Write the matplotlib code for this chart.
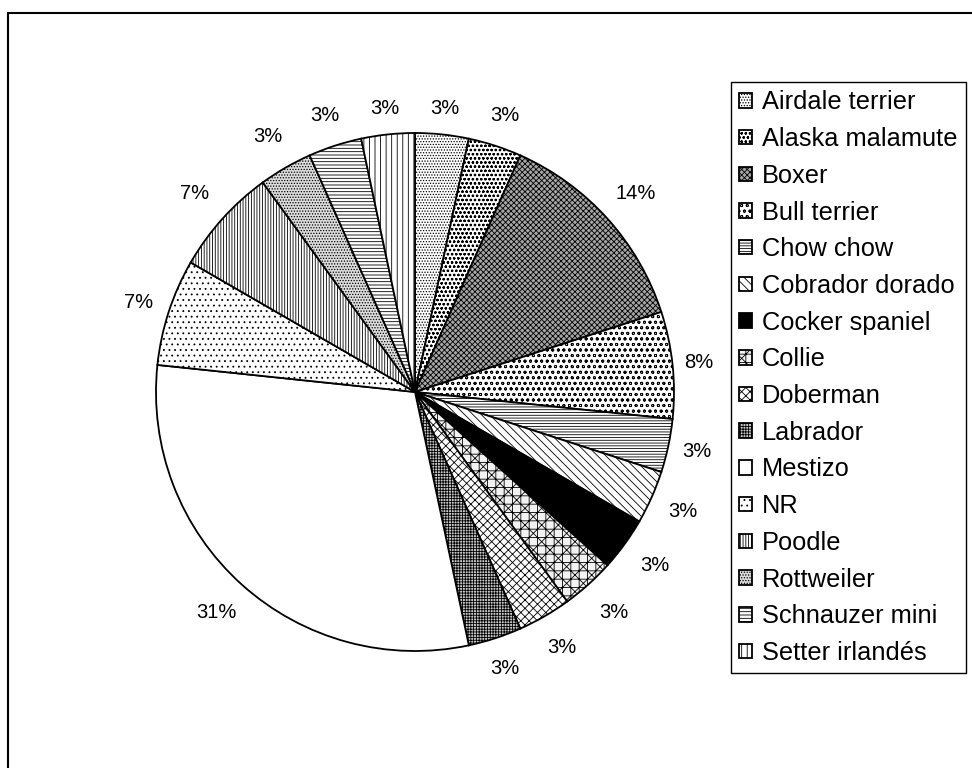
import numpy as np
import matplotlib
matplotlib.use("Agg")
import matplotlib.pyplot as plt
from matplotlib.patches import Rectangle

plt.rcParams['font.family'] = ['Liberation Sans', 'DejaVu Sans']
plt.rcParams['hatch.linewidth'] = 0.6

breeds = ["Airdale terrier", "Alaska malamute", "Boxer", "Bull terrier",
          "Chow chow", "Cobrador dorado", "Cocker spaniel", "Collie",
          "Doberman", "Labrador", "Mestizo", "NR", "Poodle", "Rottweiler",
          "Schnauzer mini", "Setter irlandés"]
counts = [1, 1, 4, 2, 1, 1, 1, 1, 1, 1, 9, 2, 2, 1, 1, 1]
pct_labels = ["3%", "3%", "14%", "8%", "3%", "3%", "3%", "3%",
              "3%", "3%", "31%", "7%", "7%", "3%", "3%", "3%"]

faces = ["white", "white", "#a6a6a6", "white", "white", "white", "black",
         "#f2f2f2", "white", "#c8c8c8", "white", "white", "white", "#dcdcdc",
         "white", "white"]
hatches = ["......", "oooo", "xxxxxx", "ooo", "------",
           "\\\\\\\\", None, "+x+x", "xxxx", "++++++", None,
           "...", "||||||", "......", "-----", "|||"]

W, H = 972, 768
fig = plt.figure(figsize=(W / 100, H / 100), dpi=100)

cx, cy, R = 415, 392, 259
ax = fig.add_axes([(cx - R) / W, (H - cy - R) / H, 2 * R / W, 2 * R / H])
wedges, texts = ax.pie(counts, startangle=90, counterclock=False,
                       colors=faces, radius=1.0, labels=pct_labels,
                       labeldistance=1.12,
                       wedgeprops=dict(edgecolor="black", linewidth=1.3),
                       textprops=dict(fontsize=14.5, color="black"))
ax.set_xlim(-1, 1)
ax.set_ylim(-1, 1)
ax.set_aspect("equal")
for w, h in zip(wedges, hatches):
    if h:
        w.set_hatch(h)

for w, t in zip(wedges, texts):
    th = np.deg2rad((w.theta1 + w.theta2) / 2)
    d = 1.09 + 0.055 * abs(np.sin(2 * th))
    t.set_position((d * np.cos(th), d * np.sin(th)))
    t.set_ha("center")
    t.set_va("center")

leg = fig.legend(wedges, breeds, loc="upper left",
                 bbox_to_anchor=(731 / W, 1 - 82 / H),
                 bbox_transform=fig.transFigure,
                 fontsize=18.3, frameon=True, fancybox=False,
                 edgecolor="black", framealpha=1, borderpad=0.33,
                 borderaxespad=0, handlelength=0.5, handleheight=0.5,
                 handletextpad=0.38, labelspacing=0.5)
leg.get_frame().set_linewidth(1.0)

# outer chart frame
fig.add_artist(Rectangle((8 / W, -0.1), 1.2, 1 - 13 / H + 0.1,
                         transform=fig.transFigure, fill=False,
                         edgecolor="black", linewidth=1.5))

fig.savefig("out.png", dpi=100)
